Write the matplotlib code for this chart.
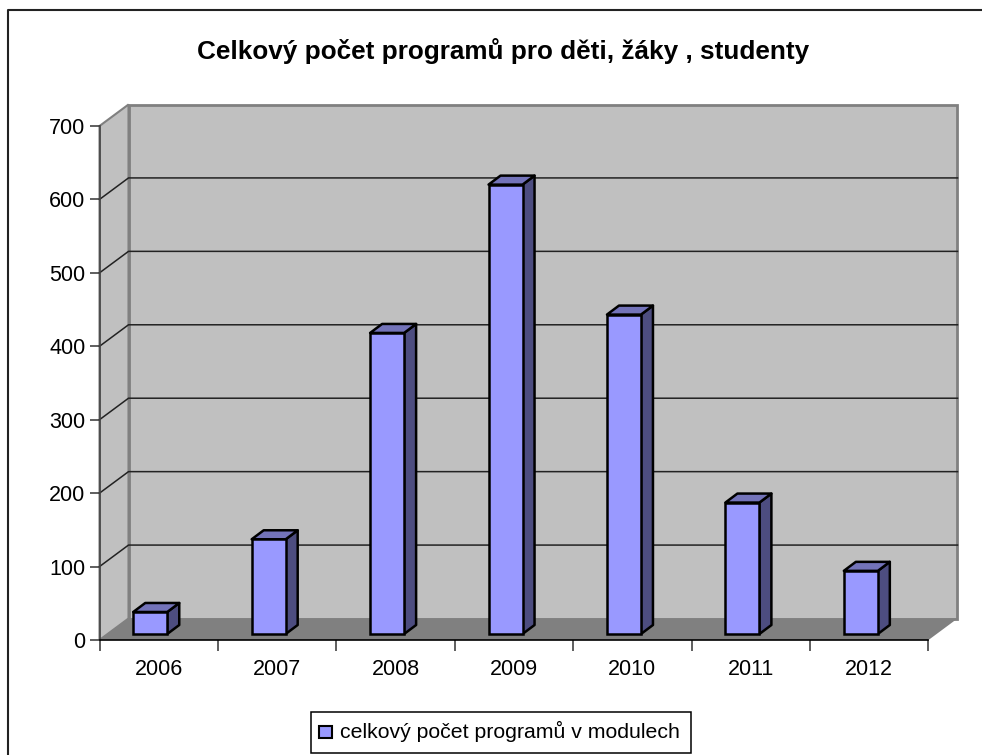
import matplotlib
matplotlib.use('Agg')
from matplotlib import pyplot as plt
from matplotlib.patches import Polygon, Rectangle
from matplotlib.lines import Line2D

years = ['2006', '2007', '2008', '2009', '2010', '2011', '2012']
programs = [30, 129, 410, 612, 435, 179, 86]
y_ticks = [0, 100, 200, 300, 400, 500, 600, 700]

title = 'Celkový počet programů pro děti, žáky , studenty'
legend_label = 'celkový počet programů v modulech'

plt.rcParams['font.family'] = ['Liberation Sans', 'DejaVu Sans']

W, H = 982, 755
fig = plt.figure(figsize=(W / 100, H / 100), dpi=100)
# plot area in pixels: x 100-928, y 126-640
ax = fig.add_axes([99.5 / W, 1 - 640 / H, 829 / W, 514 / H])
ax.set_xlim(0, 7)
ax.set_ylim(0, 700)

# 3d offsets in data units
px = 7 / 829
py = 700 / 514
wall_dx, wall_dy = 29 * px, 21.5 * py
bar_dx, bar_dy = 12 * px, 9 * py
bar_w = 34 * px
bar_left = 0.285
bar_base = 6 * py

# side wall, back wall, floor
ax.add_patch(Polygon([(0, 0), (wall_dx, wall_dy), (wall_dx, 700 + wall_dy), (0, 700)],
                     fc='#c0c0c0', ec='#808080', lw=1.5, clip_on=False, zorder=1))
ax.add_patch(Rectangle((wall_dx, wall_dy), 7, 700, fc='#c0c0c0', ec='#808080', lw=2,
                       clip_on=False, zorder=1))
ax.add_patch(Polygon([(0, 0), (wall_dx, wall_dy), (7 + wall_dx, wall_dy), (7, 0)],
                     fc='#808080', ec='none', clip_on=False, zorder=2))

for t in y_ticks[1:-1]:
    ax.plot([0, wall_dx, 7 + wall_dx], [t, t + wall_dy, t + wall_dy], color='#222222', lw=1.1,
            clip_on=False, zorder=2)

# bars
for i, v in enumerate(programs):
    x0 = i + bar_left
    x1 = x0 + bar_w
    top = bar_base + v
    ax.add_patch(Polygon([(x1, bar_base), (x1 + bar_dx, bar_base + bar_dy),
                          (x1 + bar_dx, top + bar_dy), (x1, top)],
                         fc='#4d4d80', ec='black', lw=1.8, clip_on=False, zorder=3, joinstyle='round'))
    ax.add_patch(Polygon([(x0, top), (x0 + bar_dx, top + bar_dy),
                          (x1 + bar_dx, top + bar_dy), (x1, top)],
                         fc='#7373b9', ec='black', lw=1.8, clip_on=False, zorder=3, joinstyle='round'))
    ax.bar(x0, v, bottom=bar_base, width=bar_w, align='edge', fc='#9999ff', ec='black', lw=1.8,
           clip_on=False, zorder=4)

for s in ['top', 'right']:
    ax.spines[s].set_visible(False)
ax.spines['left'].set_color('#444444')
ax.spines['bottom'].set_color('black')
ax.spines['left'].set_linewidth(1.2)
ax.spines['bottom'].set_linewidth(1.2)
ax.spines['left'].set_zorder(5)
ax.spines['bottom'].set_zorder(5)
ax.set_axisbelow(False)

ax.set_yticks(y_ticks)
ax.tick_params(axis='y', labelsize=15.5, length=7, width=1.1, pad=3, color='#333333')
ax.set_xticks(range(8))
ax.set_xticklabels([])
ax.set_xticks([i + 0.5 for i in range(7)], minor=True)
ax.set_xticklabels(years, minor=True, fontsize=15.5)
ax.tick_params(axis='x', which='major', length=8, width=1.1, color='#333333')
ax.tick_params(axis='x', which='minor', length=0, pad=14)

# chart border: only top and left are inside the crop
fig.add_artist(Line2D([8 / W, 8 / W, 1], [0, 1 - 10 / H, 1 - 10 / H],
                      color='#222222', lw=1.5))

fig.text(503 / W, 1 - 51 / H, title, ha='center', va='center', fontsize=18.8, fontweight='bold')

# legend
fig.add_artist(Rectangle((311 / W, 1 - 753 / H), 380 / W, 41 / H, fc='white', ec='black', lw=1.1,
                         transform=fig.transFigure))
fig.add_artist(Rectangle((319 / W, 1 - 738 / H), 12.5 / W, 12.5 / H, fc='#9999ff', ec='black', lw=1.5,
                         transform=fig.transFigure))
fig.text(340 / W, 1 - 731 / H, legend_label, ha='left', va='center', fontsize=15.3)

fig.savefig('out.png', dpi=100)
